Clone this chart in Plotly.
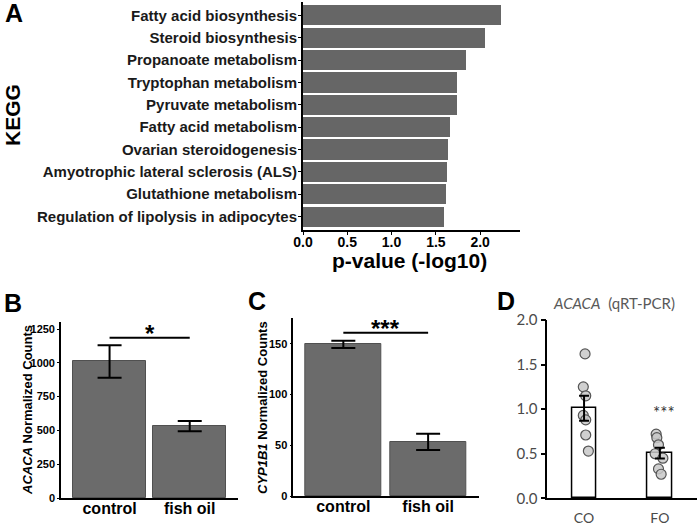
import plotly.graph_objects as go

W, H = 700, 525

# ---------------- data ----------------
kegg_terms = [
    "Fatty acid biosynthesis",
    "Steroid biosynthesis",
    "Propanoate metabolism",
    "Tryptophan metabolism",
    "Pyruvate metabolism",
    "Fatty acid metabolism",
    "Ovarian steroidogenesis",
    "Amyotrophic lateral sclerosis (ALS)",
    "Glutathione metabolism",
    "Regulation of lipolysis in adipocytes",
]
kegg_logp = [2.24, 2.05, 1.84, 1.74, 1.74, 1.66, 1.64, 1.63, 1.62, 1.59]
kegg_ticks = [0.0, 0.5, 1.0, 1.5, 2.0]

groups = ["control", "fish oil"]
acaca_counts = [1010, 532]
acaca_sem = [120, 38]
acaca_sig_y = 1185
acaca_ticks = [0, 250, 500, 750, 1000, 1250]

cyp1b1_counts = [149.5, 53.5]
cyp1b1_sem = [3.6, 8.0]
cyp1b1_sig_y = 161
cyp1b1_ticks = [0, 50, 100, 150]

qpcr_groups = ["CO", "FO"]
qpcr_co = [1.62, 1.25, 1.15, 0.93, 0.88, 0.71, 0.53]
qpcr_fo = [0.72, 0.68, 0.60, 0.50, 0.45, 0.33, 0.27]
qpcr_sem = [0.14, 0.06]
qpcr_ticks = [0.0, 0.5, 1.0, 1.5, 2.0]
# small horizontal jitter of the individual points (category units)
jit_co = [0.013, -0.010, 0.022, -0.010, 0.022, 0.022, 0.057]
jit_fo = [-0.049, -0.040, -0.018, -0.062, 0.040, -0.018, 0.017]


def px(x):
    return x / W


def py(y):
    return 1 - y / H


BOLD = "Liberation Sans"
D_FONT = "Lato"
D_GRAY = "#4a4a4a"

fig = go.Figure()

# ---------------- Panel A ----------------
fig.add_trace(go.Bar(
    x=kegg_logp, y=kegg_terms, orientation="h",
    marker=dict(color="#666666", line=dict(width=0)),
    width=0.9, xaxis="x", yaxis="y", showlegend=False,
))

# ---------------- Panel B ----------------
fig.add_trace(go.Bar(
    x=groups, y=acaca_counts,
    marker=dict(color="#6b6b6b", line=dict(color="#505050", width=1)),
    width=0.91,
    error_y=dict(type="data", array=acaca_sem, color="black", thickness=2, width=12),
    xaxis="x2", yaxis="y2", showlegend=False,
))
fig.add_trace(go.Scatter(
    x=groups, y=[acaca_sig_y, acaca_sig_y], mode="lines",
    line=dict(color="black", width=2), xaxis="x2", yaxis="y2",
    showlegend=False, hoverinfo="skip",
))

# ---------------- Panel C ----------------
fig.add_trace(go.Bar(
    x=groups, y=cyp1b1_counts,
    marker=dict(color="#6b6b6b", line=dict(color="#505050", width=1)),
    width=0.9,
    error_y=dict(type="data", array=cyp1b1_sem, color="black", thickness=2, width=12),
    xaxis="x3", yaxis="y3", showlegend=False,
))
fig.add_trace(go.Scatter(
    x=groups, y=[cyp1b1_sig_y, cyp1b1_sig_y], mode="lines",
    line=dict(color="black", width=2), xaxis="x3", yaxis="y3",
    showlegend=False, hoverinfo="skip",
))

# ---------------- Panel D ----------------
qpcr_means = [sum(qpcr_co) / len(qpcr_co), sum(qpcr_fo) / len(qpcr_fo)]
fig.add_trace(go.Bar(
    x=[0, 1], y=qpcr_means,
    marker=dict(color="white", line=dict(color="black", width=1.5)),
    width=0.32, xaxis="x4", yaxis="y4", showlegend=False,
))
fig.add_trace(go.Scatter(
    x=[0 + j for j in jit_co] + [1 + j for j in jit_fo],
    y=qpcr_co + qpcr_fo, mode="markers",
    marker=dict(size=10, color="rgba(200,200,200,0.85)",
                line=dict(color="#555555", width=1.2)),
    xaxis="x4", yaxis="y4", showlegend=False,
))
fig.add_trace(go.Scatter(
    x=[0, 1], y=qpcr_means, mode="markers",
    marker=dict(size=1, color="rgba(0,0,0,0)"),
    error_y=dict(type="data", array=qpcr_sem, color="black", thickness=2, width=5),
    xaxis="x4", yaxis="y4", showlegend=False, hoverinfo="skip",
))

axis_line = dict(showline=True, linecolor="black", showgrid=False, zeroline=False,
                 automargin=False)

fig.update_layout(
    width=W, height=H,
    margin=dict(l=0, r=0, t=0, b=0),
    paper_bgcolor="white", plot_bgcolor="white",
    bargap=0,
    # Panel A
    xaxis=dict(
        domain=[px(303), px(520)], anchor="y", range=[0, 2.45],
        tickvals=kegg_ticks, tickformat=".1f",
        ticks="outside", ticklen=3, tickcolor="black", ticklabelstandoff=-5,
        tickfont=dict(family=BOLD, size=14, color="black", weight="bold"),
        linewidth=2, **axis_line,
    ),
    yaxis=dict(
        domain=[py(230), py(2)], anchor="x",
        type="category", categoryorder="array", categoryarray=kegg_terms[::-1],
        range=[-0.6, 9.6],
        ticks="outside", ticklen=3, tickcolor="black", ticklabelstandoff=-2,
        tickfont=dict(family=BOLD, size=15, color="#1a1a1a", weight="bold"),
        linewidth=2, **axis_line,
    ),
    # Panel B
    xaxis2=dict(
        domain=[px(61), px(238.3)], anchor="y2", range=[-0.606, 1.606],
        ticks="", ticklabelstandoff=-5,
        tickfont=dict(family=BOLD, size=16, color="black", weight="bold"),
        linewidth=1.6, **axis_line,
    ),
    yaxis2=dict(
        domain=[py(498), py(322)], anchor="x2", range=[0, 1302],
        tickvals=acaca_ticks, ticks="outside", ticklen=2, tickcolor="black",
        tickfont=dict(family=BOLD, size=11, color="black", weight="bold"),
        linewidth=1.6, **axis_line,
    ),
    # Panel C
    xaxis3=dict(
        domain=[px(293.3), px(479)], anchor="y3", range=[-0.59, 1.6],
        ticks="", ticklabelstandoff=-5,
        tickfont=dict(family=BOLD, size=16, color="black", weight="bold"),
        linewidth=1.6, **axis_line,
    ),
    yaxis3=dict(
        domain=[py(496), py(318)], anchor="x3", range=[0, 175.6],
        tickvals=cyp1b1_ticks, ticks="outside", ticklen=2, tickcolor="black",
        tickfont=dict(family=BOLD, size=11, color="black", weight="bold"),
        linewidth=1.6, **axis_line,
    ),
    # Panel D
    xaxis4=dict(
        domain=[px(547.3), px(697)], anchor="y4", range=[-0.485, 1.49],
        tickvals=[0, 1], ticktext=qpcr_groups, ticks="",
        ticklabelstandoff=6,
        tickfont=dict(family=D_FONT, size=14, color=D_GRAY),
        linewidth=1.5, **axis_line,
    ),
    yaxis4=dict(
        domain=[py(498.3), py(320)], anchor="x4", range=[0, 2.0],
        tickvals=qpcr_ticks, tickformat=".1f",
        ticks="outside", ticklen=5, tickwidth=1.5, tickcolor="black",
        tickfont=dict(family=D_FONT, size=15, color=D_GRAY),
        linewidth=1.5, **axis_line,
    ),
)

ann = []
# panel letters
for letter, x, y in [("A", 14, 13), ("B", 13, 303), ("C", 257, 301), ("D", 506, 301)]:
    ann.append(dict(text=f"<b>{letter}</b>", x=px(x), y=py(y), xref="paper", yref="paper",
                    xanchor="center", yanchor="middle", showarrow=False,
                    font=dict(family=BOLD, size=25, color="black")))
# axis titles
ann.append(dict(text="<b>KEGG</b>", x=px(12), y=py(115), xref="paper", yref="paper",
                textangle=-90, showarrow=False, xanchor="center", yanchor="middle",
                font=dict(family=BOLD, size=21, color="black")))
ann.append(dict(text="<b>p-value (-log10)</b>", x=px(409), y=py(260), xref="paper", yref="paper",
                showarrow=False, xanchor="center", yanchor="middle",
                font=dict(family=BOLD, size=21, color="black")))
ann.append(dict(text="<b><i>ACACA</i> Normalized Counts</b>", x=px(27), y=py(410),
                xref="paper", yref="paper", textangle=-90, showarrow=False,
                xanchor="center", yanchor="middle",
                font=dict(family=BOLD, size=13, color="black")))
ann.append(dict(text="<b><i>CYP1B1</i> Normalized Counts</b>", x=px(262), y=py(408),
                xref="paper", yref="paper", textangle=-90, showarrow=False,
                xanchor="center", yanchor="middle",
                font=dict(family=BOLD, size=13, color="black")))
# significance stars
ann.append(dict(text="<b>*</b>", x=0.5, y=acaca_sig_y, xref="x2", yref="y2",
                showarrow=False, xanchor="center", yanchor="middle", yshift=4,
                font=dict(family=BOLD, size=24, color="black")))
ann.append(dict(text="<b>***</b>", x=0.5, y=cyp1b1_sig_y, xref="x3", yref="y3",
                showarrow=False, xanchor="center", yanchor="middle", yshift=4,
                font=dict(family=BOLD, size=24, color="black")))
ann.append(dict(text="***", x=1.06, y=0.96, xref="x4", yref="y4",
                showarrow=False, xanchor="center", yanchor="middle",
                font=dict(family=D_FONT, size=17, color="#333333")))
# panel D title
ann.append(dict(text="<i>ACACA</i>  (qRT-PCR)", x=px(614), y=py(303), xref="paper", yref="paper",
                showarrow=False, xanchor="center", yanchor="middle",
                font=dict(family=D_FONT, size=15, color="#595959")))
fig.update_layout(annotations=ann)

fig.write_html(
    "out.html",
    config={"displayModeBar": False},
    post_script="document.body.style.margin='0px';document.body.style.padding='0px';",
)
